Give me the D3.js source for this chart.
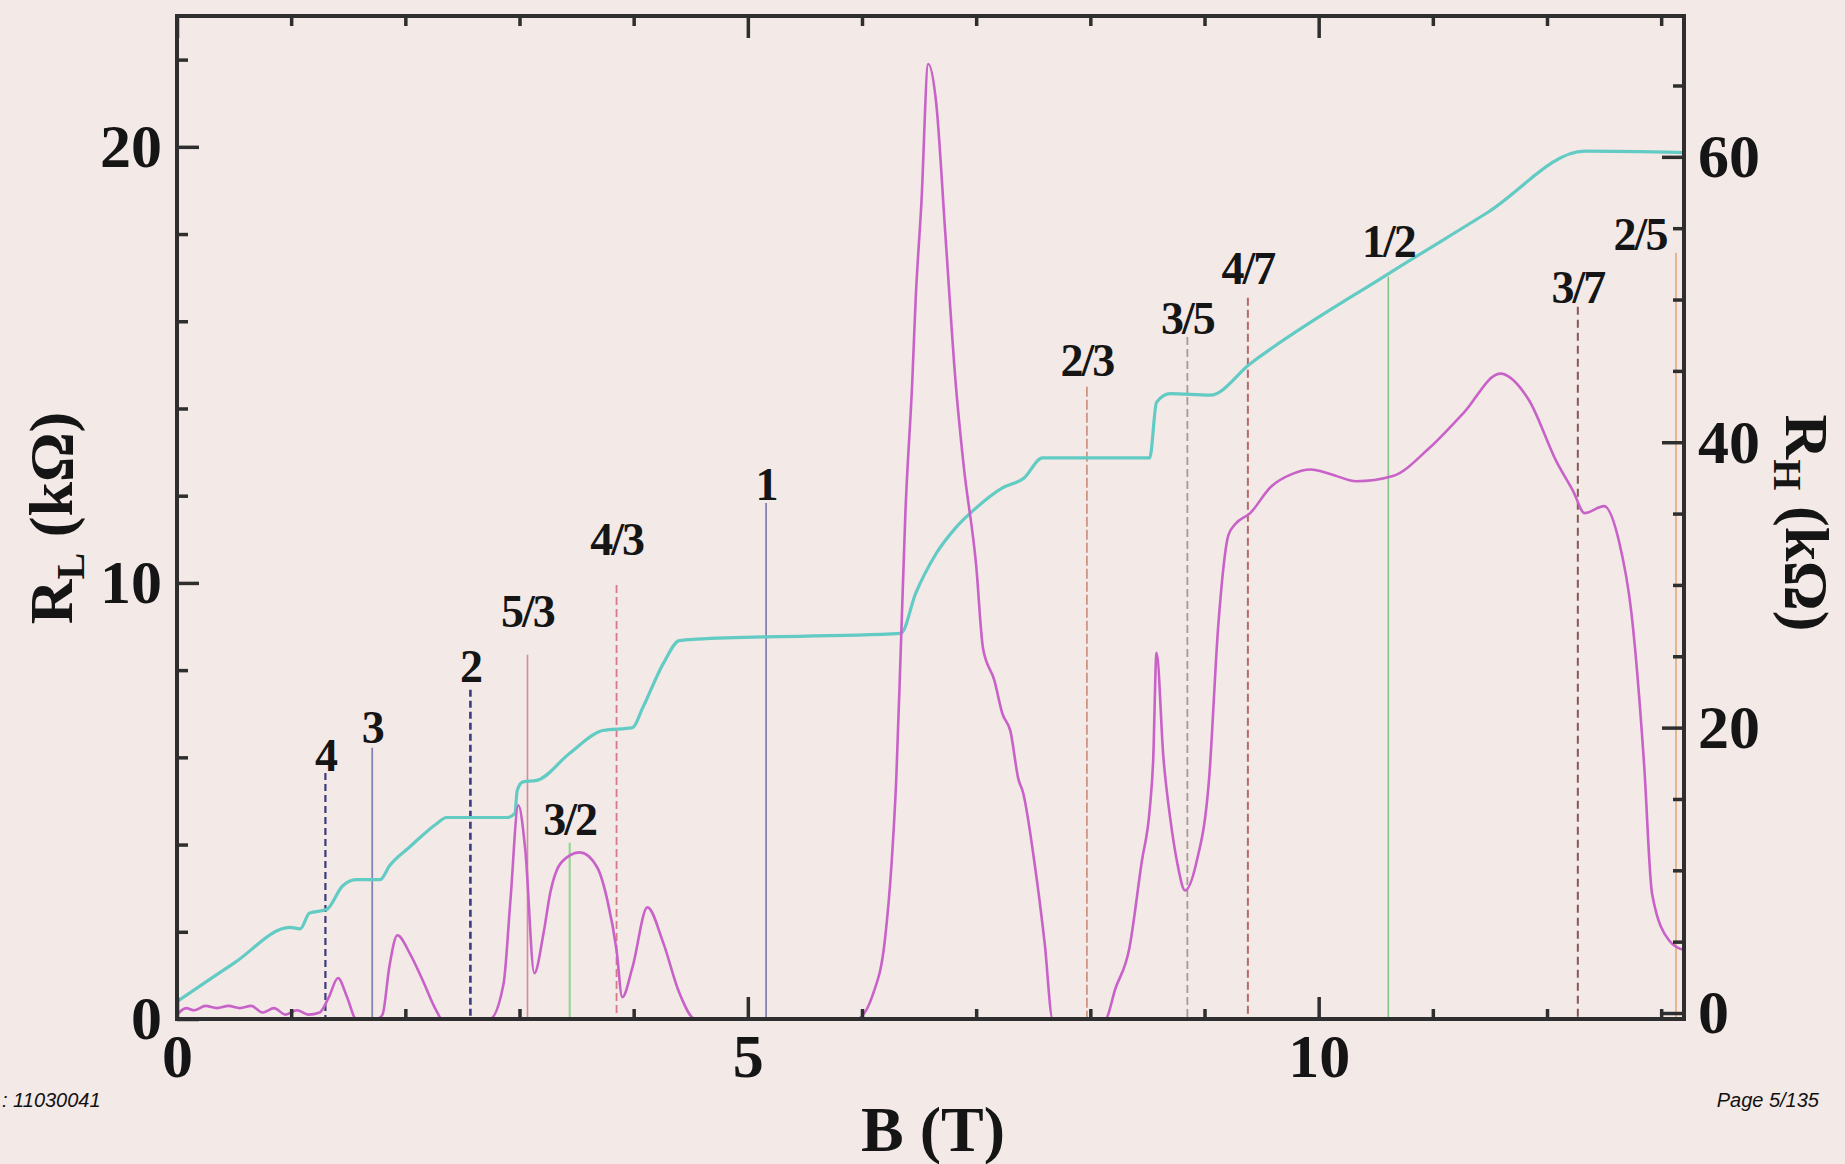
<!DOCTYPE html>
<html>
<head>
<meta charset="utf-8">
<script src="https://cdnjs.cloudflare.com/ajax/libs/d3/7.8.5/d3.min.js"></script>
<style>
  html, body { margin: 0; padding: 0; background: #f3e9e6; }
  svg { display: block; }
  .tick text { font-family: "Liberation Serif", "DejaVu Serif", serif; font-weight: bold; font-size: 62px; fill: #151515; }
</style>
</head>
<body>
<svg id="chart" width="1845" height="1164"></svg>
<script>
// Hall resistance R_H (kΩ) against B (T)
const hallB = [0.0, 0.5, 0.99, 1.08, 1.16, 1.31, 1.45, 1.57, 1.78, 1.86, 2.04, 2.28, 2.36, 2.89, 2.96, 2.98,
  3.03, 3.15, 3.44, 3.73, 3.99, 4.08, 4.26, 4.40, 4.55, 6.34, 6.47, 6.65, 6.82, 7.0, 7.23, 7.42, 7.58,
  8.52, 8.58, 8.70, 9.05, 9.40, 10.61, 11.48, 12.33, 13.2];
const hallR = [0.8, 3.5, 6.0, 5.9, 7.0, 7.25, 8.9, 9.35, 9.35, 10.3, 11.65, 13.3, 13.7, 13.7, 14.0, 15.6,
  16.2, 16.3, 18.2, 19.8, 20.0, 21.4, 24.5, 26.1, 26.2, 26.6, 29.4, 32.2, 34.0, 35.4, 36.8, 37.5, 38.9,
  38.9, 42.8, 43.4, 43.3, 45.5, 51.8, 56.1, 60.4, 60.3];

// longitudinal resistance R_L (kΩ) against B (T)
const longB = [0.0, 0.08, 0.15, 0.25, 0.35, 0.45, 0.55, 0.65, 0.75, 0.85, 0.95, 1.05, 1.15, 1.25, 1.33, 1.41,
  1.49, 1.57, 1.75, 1.80, 1.86, 1.93, 2.04, 2.15, 2.27, 2.32, 2.74, 2.86, 2.92, 2.99, 3.05, 3.13, 3.21,
  3.27, 3.37, 3.53, 3.68, 3.77, 3.85, 3.90, 3.99, 4.12, 4.26, 4.40, 4.54, 5.95, 6.10, 6.20, 6.26, 6.30,
  6.34, 6.38, 6.44, 6.47, 6.52, 6.58, 6.65, 6.73, 6.82, 6.89, 7.0, 7.06, 7.16, 7.23, 7.30, 7.37, 7.41,
  7.51, 7.60, 7.67, 8.13, 8.22, 8.34, 8.45, 8.52, 8.55, 8.58, 8.64, 8.70, 8.76, 8.83, 8.93, 9.04, 9.12,
  9.21, 9.27, 9.40, 9.58, 9.77, 9.93, 10.10, 10.33, 10.65, 10.96, 11.27, 11.59, 11.84, 12.08, 12.23,
  12.33, 12.50, 12.63, 12.74, 12.85, 12.92, 13.07, 13.2];
const longR = [0.1, 0.25, 0.2, 0.3, 0.25, 0.3, 0.25, 0.3, 0.15, 0.25, 0.1, 0.2, 0.1, 0.15, 0.5, 0.94,
  0.5, 0.0, 0.0, 0.1, 1.2, 1.92, 1.5, 0.9, 0.2, 0.0, 0.0, 0.8, 2.7, 4.9, 3.9, 1.05, 1.96,
  2.9, 3.6, 3.82, 3.48, 2.72, 1.58, 0.5, 1.19, 2.56, 1.74, 0.6, 0.0, 0.0, 0.6, 1.8, 3.6, 5.5,
  8.5, 11.6, 14.6, 16.5, 18.7, 21.9, 21.0, 18.0, 14.6, 12.7, 10.4, 8.5, 7.76, 7.0, 6.6, 5.5, 5.2,
  3.6, 1.74, 0.0, 0.0, 0.7, 1.6, 3.6, 4.8, 5.9, 8.4, 6.0, 4.6, 3.6, 2.95, 3.6, 5.5, 9.0,
  11.1, 11.35, 11.6, 12.2, 12.5, 12.6, 12.5, 12.33, 12.45, 13.07, 13.9, 14.8, 14.2, 12.8, 12.1,
  11.6, 11.76, 10.96, 9.3, 5.86, 2.88, 1.8, 1.58];

// filling factor markers: label, field (T), top of line (in R_L units)
const nuLabels = ["4", "3", "2", "5/3", "3/2", "4/3", "1", "2/3", "3/5", "4/7", "1/2", "3/7", "2/5"];
const nuB = [1.30, 1.71, 2.57, 3.07, 3.44, 3.85, 5.16, 7.97, 8.85, 9.38, 10.61, 12.27, 13.13];
const nuTop = [5.64, 6.22, 7.55, 8.35, 4.04, 9.95, 11.83, 14.5, 15.64, 16.54, 17.02, 16.33, 17.57];

const xTicks = [0, 5, 10];
const leftTicks = [0, 10, 20];
const rightTicks = [0, 20, 40, 60];

// line look for each marker
const nuStyle = {
  "4":   { color: "#3b3b7c", dash: "7,4", w: 2.2, gap: 2, dx: 0 },
  "3":   { color: "#8585b5", dash: null, w: 1.8, gap: 5, dx: 0 },
  "2":   { color: "#3c3c82", dash: "7,4", w: 2.6, gap: 8, dx: 0 },
  "5/3": { color: "#d48c98", dash: null, w: 1.6, gap: 28, dx: 0 },
  "3/2": { color: "#9ad49a", dash: null, w: 2.2, gap: 8, dx: 0 },
  "4/3": { color: "#d47a8a", dash: "8,4", w: 1.8, gap: 30, dx: 0 },
  "1":   { color: "#7676a6", dash: null, w: 1.6, gap: 3, dx: 0 },
  "2/3": { color: "#c98a78", dash: "10,3", w: 1.6, gap: 11, dx: 0 },
  "3/5": { color: "#a89898", dash: "8,4", w: 1.8, gap: 3, dx: 0 },
  "4/7": { color: "#b86a6a", dash: "8,4", w: 2.0, gap: 14, dx: 0 },
  "1/2": { color: "#86c486", dash: null, w: 1.6, gap: 20, dx: 0 },
  "3/7": { color: "#865858", dash: "8,5", w: 2.0, gap: 4, dx: 0 },
  "2/5": { color: "#e2a878", dash: null, w: 1.6, gap: 3, dx: -36 }
};

const width = 1845, height = 1164;
const plot = { left: 177, right: 1684, top: 16, bottom: 1019 };
const ink = "#2e2e2e";
const serif = '"Liberation Serif", "DejaVu Serif", serif';

const svg = d3.select("#chart");
svg.append("rect").attr("width", width).attr("height", height).attr("fill", "#f3e9e6");

const x = d3.scaleLinear().domain([0, 13.2]).range([plot.left, plot.right]);
const yL = d3.scaleLinear().domain([0, 23]).range([plot.bottom, plot.top]);
const yR = d3.scaleLinear().domain([-0.42, 69.87]).range([plot.bottom, plot.top]);

// marker lines
const markers = nuLabels.map((lab, i) => ({ lab, b: nuB[i], top: nuTop[i] }));
svg.append("g").selectAll("line").data(markers).join("line")
  .attr("x1", d => x(d.b)).attr("x2", d => x(d.b))
  .attr("y1", d => yL(d.top)).attr("y2", yL(0))
  .attr("stroke", d => nuStyle[d.lab].color)
  .attr("stroke-width", d => nuStyle[d.lab].w)
  .attr("stroke-dasharray", d => nuStyle[d.lab].dash);

// curves
const hall = hallB.map((b, i) => [b, hallR[i]]);
const longi = longB.map((b, i) => [b, longR[i]]);

svg.append("path").datum(hall)
  .attr("fill", "none").attr("stroke", "#62cbc4").attr("stroke-width", 3.2)
  .attr("stroke-linejoin", "round")
  .attr("d", d3.line().x(d => x(d[0])).y(d => yR(d[1])).curve(d3.curveMonotoneX));

svg.append("path").datum(longi)
  .attr("fill", "none").attr("stroke", "#c862c8").attr("stroke-width", 2.6)
  .attr("stroke-linejoin", "round")
  .attr("d", d3.line().x(d => x(d[0])).y(d => yL(d[1])).curve(d3.curveMonotoneX));

// marker labels
svg.append("g").selectAll("text").data(markers).join("text")
  .attr("x", d => x(d.b) + nuStyle[d.lab].dx)
  .attr("y", d => yL(d.top) - nuStyle[d.lab].gap)
  .attr("text-anchor", "middle")
  .attr("font-family", serif).attr("font-weight", "bold").attr("font-size", 46)
  .attr("letter-spacing", -2)
  .attr("fill", "#151515")
  .text(d => d.lab);

// axes (ticks point inward)
function tidy(g) {
  g.select(".domain").remove();
  g.selectAll(".tick line").attr("stroke", ink).attr("stroke-width", 3.5);
}

svg.append("g").attr("transform", `translate(0,${plot.bottom})`)
  .call(d3.axisBottom(x).tickValues(d3.range(1, 14).filter(v => v % 5)).tickSize(-10).tickFormat(""))
  .call(tidy);
svg.append("g").attr("transform", `translate(0,${plot.bottom})`)
  .call(d3.axisBottom(x).tickValues(xTicks).tickSize(-22).tickPadding(14).tickFormat(d3.format("d")))
  .call(tidy);
svg.append("g").attr("transform", `translate(0,${plot.top})`)
  .call(d3.axisTop(x).tickValues(d3.range(1, 14).filter(v => v % 5)).tickSize(-10).tickFormat(""))
  .call(tidy);
svg.append("g").attr("transform", `translate(0,${plot.top})`)
  .call(d3.axisTop(x).tickValues(xTicks).tickSize(-22).tickFormat(""))
  .call(tidy);

svg.append("g").attr("transform", `translate(${plot.left},0)`)
  .call(d3.axisLeft(yL).tickValues(d3.range(2, 23, 2).filter(v => v % 10)).tickSize(-11).tickFormat(""))
  .call(tidy);
svg.append("g").attr("transform", `translate(${plot.left},0)`)
  .call(d3.axisLeft(yL).tickValues(leftTicks).tickSize(-22).tickPadding(15).tickFormat(d3.format("d")))
  .call(tidy);

svg.append("g").attr("transform", `translate(${plot.right},0)`)
  .call(d3.axisRight(yR).tickValues(d3.range(5, 70, 5).filter(v => v % 20)).tickSize(-11).tickFormat(""))
  .call(tidy);
svg.append("g").attr("transform", `translate(${plot.right},0)`)
  .call(d3.axisRight(yR).tickValues(rightTicks).tickSize(-22).tickPadding(14).tickFormat(d3.format("d")))
  .call(tidy);

// frame
svg.append("rect")
  .attr("x", plot.left).attr("y", plot.top)
  .attr("width", plot.right - plot.left).attr("height", plot.bottom - plot.top)
  .attr("fill", "none").attr("stroke", ink).attr("stroke-width", 4);

// axis titles
svg.append("text")
  .attr("x", 933).attr("y", 1151)
  .attr("text-anchor", "middle")
  .attr("font-family", serif).attr("font-weight", "bold").attr("font-size", 64)
  .attr("fill", "#151515")
  .text("B (T)");

const leftTitle = svg.append("text")
  .attr("transform", "translate(72,518) rotate(-90)")
  .attr("text-anchor", "middle")
  .attr("font-family", serif).attr("font-weight", "bold").attr("font-size", 62)
  .attr("fill", "#151515");
leftTitle.append("tspan").text("R");
leftTitle.append("tspan").attr("font-size", 40).attr("dy", 12).text("L");
leftTitle.append("tspan").attr("dy", -12).text(" (kΩ)");

const rightTitle = svg.append("text")
  .attr("transform", "translate(1786,523) rotate(90)")
  .attr("text-anchor", "middle")
  .attr("font-family", serif).attr("font-weight", "bold").attr("font-size", 62)
  .attr("fill", "#151515");
rightTitle.append("tspan").text("R");
rightTitle.append("tspan").attr("font-size", 40).attr("dy", 12).text("H");
rightTitle.append("tspan").attr("dy", -12).text(" (kΩ)");

// page footer
svg.append("text")
  .attr("x", 2).attr("y", 1107).attr("text-anchor", "start")
  .attr("font-family", '"Liberation Sans", Arial, sans-serif').attr("font-style", "italic").attr("font-size", 20)
  .attr("fill", "#111")
  .text(": 11030041");
svg.append("text")
  .attr("x", 1819).attr("y", 1107).attr("text-anchor", "end")
  .attr("font-family", '"Liberation Sans", Arial, sans-serif').attr("font-style", "italic").attr("font-size", 20)
  .attr("fill", "#111")
  .text("Page 5/135");
</script>
</body>
</html>
